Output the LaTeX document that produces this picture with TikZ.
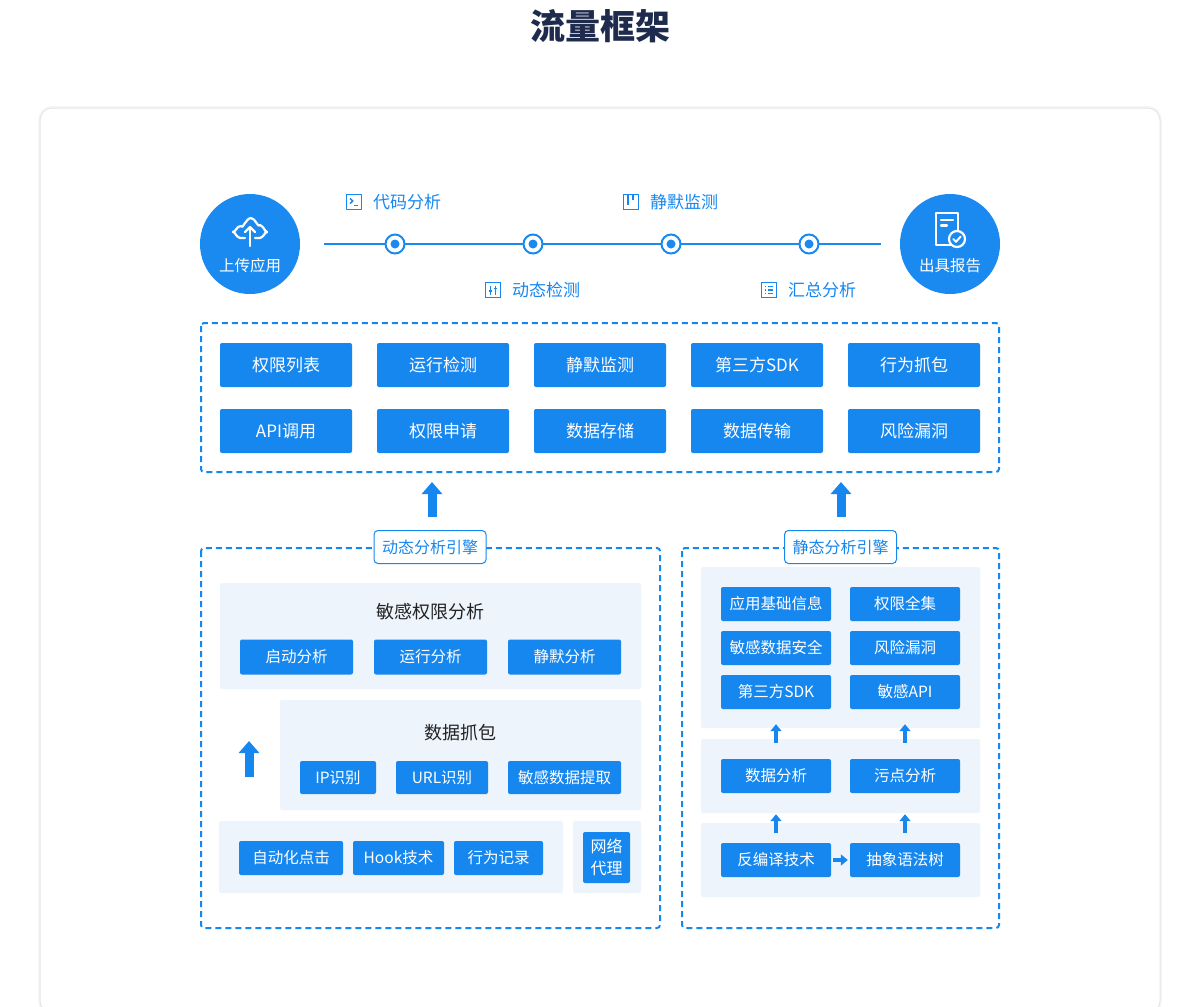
\documentclass[tikz,border=0pt]{standalone}
\usepackage{fontspec}
\setmainfont{Noto Sans CJK SC}
\usetikzlibrary{arrows.meta,calc}
\definecolor{bblue}{HTML}{1787F0}
\definecolor{cblue}{HTML}{1A8AF0}
\definecolor{panelbg}{HTML}{EDF4FC}
\definecolor{titlec}{HTML}{1F2B4D}
\definecolor{framec}{HTML}{E6E6E6}
\definecolor{shadowc}{HTML}{F6F6F6}
\definecolor{txt}{HTML}{222222}
\newcommand{\fsz}[1]{\fontsize{#1}{#1}\selectfont}
\begin{document}
\begin{tikzpicture}[x=1pt,y=-1pt,
  bigbox/.style={fill=bblue, rounded corners=2pt, minimum width=132pt, minimum height=44pt, inner sep=0pt, text=white, font=\fsz{17}},
  smbox/.style={fill=bblue, rounded corners=2pt, minimum height=34pt, inner sep=0pt, text=white, font=\fsz{15.5}},
  panel/.style={fill=panelbg, rounded corners=2pt, draw=none},
  dashbox/.style={draw=bblue, line width=2pt, dash pattern=on 6pt off 4pt, rounded corners=3pt},
  enginelabel/.style={fill=white, draw=bblue, line width=1pt, rounded corners=4pt, minimum width=112pt, minimum height=33pt, inner sep=0pt, text=bblue, font=\fsz{16}},
  tllabel/.style={anchor=west, inner sep=0pt, text=bblue, font=\fsz{17}},
  ptitle/.style={inner sep=0pt, text=txt, font=\fsz{18}},
  fatarrow/.style={draw=bblue, line width=9pt, -{Triangle[width=20pt,length=12pt]}},
  thinarrow/.style={draw=bblue, line width=4pt, -{Triangle[width=11pt,length=7pt]}},
  dotnode/.style={circle, fill=white, draw=cblue, line width=2pt, minimum size=19pt, inner sep=0pt},
  icon/.style={draw=bblue, line width=1.5pt},
]
\useasboundingbox (0,0) rectangle (1200,1007);
\begin{scope}
\clip (0,0) rectangle (1200,1007);
% outer frame
\draw[shadowc, line width=4pt, rounded corners=12pt] (40,108) rectangle (1160,1013);
\draw[framec, line width=1pt, fill=white, rounded corners=12pt] (40,108) rectangle (1160,1013);
\end{scope}

% title
\node[inner sep=0pt, text=titlec, font=\fsz{35}\bfseries] (title) at (600,26) {流量框架};

% timeline
\coordinate (ls) at (324,244);
\coordinate (le) at (881,244);
\draw[cblue, line width=2pt] (ls) -- (le);
\foreach \i/\x in {1/395,2/533,3/671,4/809}{
  \node[dotnode] (d\i) at (\x,244) {};
  \fill[cblue] (d\i.center) circle (4.5pt);
}

% circles
\node[circle, fill=cblue, minimum size=100pt, inner sep=0pt] (up) at (250,244) {};
\node[circle, fill=cblue, minimum size=100pt, inner sep=0pt] (rep) at (950,244) {};
\node[inner sep=0pt, text=white, font=\fsz{15.5}] (uptxt) at (250,266) {上传应用};
\node[inner sep=0pt, text=white, font=\fsz{15.5}] (reptxt) at (950,266) {出具报告};

% cloud upload icon
\begin{scope}[shift={(250,232)}, yscale=-1, white, line width=2.2pt, line cap=round, line join=round]
  \draw (-5,-6) -- (-10,-6) to[out=180,in=270] (-17,0) to[out=90,in=200] (-9,6) to[out=80,in=180] (1,14) to[out=0,in=110] (10,7) to[out=10,in=90] (17,0) to[out=270,in=0] (10,-6) -- (5,-6);
  \draw (0,-14) -- (0,5);
  \draw (-5,0) -- (0,5) -- (5,0);
\end{scope}

% report icon
\begin{scope}[shift={(950,230)}, yscale=-1, white, line width=2.2pt, line cap=round, line join=round]
  \draw (-14,-15) rectangle (8,17);
  \draw (-9,10) -- (3,10);
  \draw (-9,4.5) -- (-3,4.5);
  \filldraw[fill=cblue] (7,-9) circle (8pt);
  \draw[line width=2pt] (3.3,-9) -- (6,-11.8) -- (10.6,-6.6);
\end{scope}

% timeline labels with small icons
\begin{scope}[shift={(354,202)}, yscale=-1, icon, line join=round]
  \draw (-7.5,-7.5) rectangle (7.5,7.5);
  \draw (-4,3.5) -- (-1.2,1) -- (-4,-1.5);
  \draw (0,-3.5) -- (4,-3.5);
\end{scope}
\node[tllabel] (l1) at (373,202) {代码分析};

\begin{scope}[shift={(493,290)}, yscale=-1, icon]
  \draw (-7.5,-7.5) rectangle (7.5,7.5);
  \draw (-2.5,4.5) -- (-2.5,-4.5);
  \draw (2.5,4.5) -- (2.5,-4.5);
  \draw (-4.3,-1) -- (-0.7,-1);
  \draw (0.7,1.5) -- (4.3,1.5);
\end{scope}
\node[tllabel] (l2) at (512,290) {动态检测};

\begin{scope}[shift={(631,202)}, yscale=-1, icon]
  \draw (-7.5,-7.5) rectangle (7.5,7.5);
  \draw (-3,7.5) -- (-3,-2.5);
  \draw (2,7.5) -- (2,2);
\end{scope}
\node[tllabel] (l3) at (650,202) {静默监测};

\begin{scope}[shift={(769,290)}, yscale=-1, icon]
  \draw (-7.5,-7.5) rectangle (7.5,7.5);
  \foreach \yy in {3.3,0,-3.3}{
    \draw[line width=1.3pt] (-4,\yy) -- (-2.6,\yy);
    \draw[line width=1.3pt] (-1,\yy) -- (4,\yy);
  }
\end{scope}
\node[tllabel] (l4) at (788,290) {汇总分析};

% top result box
\coordinate (tb1) at (201,323);
\coordinate (tb2) at (999,472);
\draw[dashbox] (tb1) rectangle (tb2);
\node[bigbox] (r11) at (286,365) {权限列表};
\node[bigbox] (r12) at (443,365) {运行检测};
\node[bigbox] (r13) at (600,365) {静默监测};
\node[bigbox] (r14) at (757,365) {第三方SDK};
\node[bigbox] (r15) at (914,365) {行为抓包};
\node[bigbox] (r21) at (286,431) {API调用};
\node[bigbox] (r22) at (443,431) {权限申请};
\node[bigbox] (r23) at (600,431) {数据存储};
\node[bigbox] (r24) at (757,431) {数据传输};
\node[bigbox] (r25) at (914,431) {风险漏洞};

% big arrows up
\coordinate (fa1s) at (432,517);
\coordinate (fa1e) at (432,482);
\coordinate (fa2s) at (841,517);
\coordinate (fa2e) at (841,482);
\draw[fatarrow] (fa1s) -- (fa1e);
\draw[fatarrow] (fa2s) -- (fa2e);

% dynamic engine
\coordinate (db1) at (201,548);
\coordinate (db2) at (660,928);
\draw[dashbox] (db1) rectangle (db2);
\node[enginelabel] (dyn) at (430,547) {动态分析引擎};

\fill[panel] (220,583) rectangle (641,689);
\node[ptitle] (p1t) at (430,612) {敏感权限分析};
\node[smbox, minimum width=113pt, minimum height=35pt] (qd) at (296.5,657) {启动分析};
\node[smbox, minimum width=113pt, minimum height=35pt] (yx) at (430.5,657) {运行分析};
\node[smbox, minimum width=113pt, minimum height=35pt] (jm) at (564.5,657) {静默分析};

\fill[panel] (280,700) rectangle (641,810);
\node[ptitle] (p2t) at (460,733) {数据抓包};
\node[smbox, minimum width=76pt, minimum height=33pt] (ip) at (338,777.5) {IP识别};
\node[smbox, minimum width=92pt, minimum height=33pt] (url) at (442,777.5) {URL识别};
\node[smbox, minimum width=113pt, minimum height=33pt] (mg) at (564.5,777.5) {敏感数据提取};

\coordinate (fa3s) at (249,777);
\coordinate (fa3e) at (249,741);
\draw[fatarrow] (fa3s) -- (fa3e);

\fill[panel] (219,821) rectangle (563,893);
\node[smbox, minimum width=104pt] (zd) at (291,858) {自动化点击};
\node[smbox, minimum width=91pt] (hook) at (398.5,858) {Hook技术};
\node[smbox, minimum width=89pt] (xw) at (498.5,858) {行为记录};
\fill[panel] (573,821) rectangle (641,893);
\node[smbox, minimum width=47pt, minimum height=51pt, align=center, font=\fontsize{16}{22}\selectfont] (wl) at (606.5,857.5) {网络\\代理};

% static engine
\coordinate (sb1) at (682,548);
\coordinate (sb2) at (999,928);
\draw[dashbox] (sb1) rectangle (sb2);
\node[enginelabel] (sta) at (840.5,547) {静态分析引擎};

\fill[panel] (701,567) rectangle (980,728);
\node[smbox, minimum width=110pt] (a1) at (776,604) {应用基础信息};
\node[smbox, minimum width=110pt] (a2) at (905,604) {权限全集};
\node[smbox, minimum width=110pt] (a3) at (776,648) {敏感数据安全};
\node[smbox, minimum width=110pt] (a4) at (905,648) {风险漏洞};
\node[smbox, minimum width=110pt] (a5) at (776,692) {第三方SDK};
\node[smbox, minimum width=110pt] (a6) at (905,692) {敏感API};

\fill[panel] (701,739) rectangle (980,813);
\node[smbox, minimum width=110pt] (b1) at (776,776) {数据分析};
\node[smbox, minimum width=110pt] (b2) at (905,776) {污点分析};

\fill[panel] (701,823) rectangle (980,897);
\node[smbox, minimum width=110pt] (c1) at (776,860) {反编译技术};
\node[smbox, minimum width=110pt] (c2) at (905,860) {抽象语法树};

\draw[thinarrow, shorten <=16pt, shorten >=15pt] (b1.north) -- (a5.south);
\draw[thinarrow, shorten <=16pt, shorten >=15pt] (b2.north) -- (a6.south);
\draw[thinarrow, shorten <=10pt, shorten >=21pt] (c1.north) -- (b1.south);
\draw[thinarrow, shorten <=10pt, shorten >=21pt] (c2.north) -- (b2.south);
\draw[thinarrow, shorten <=2pt, shorten >=2pt] (c1.east) -- (c2.west);
\end{tikzpicture}
\end{document}
